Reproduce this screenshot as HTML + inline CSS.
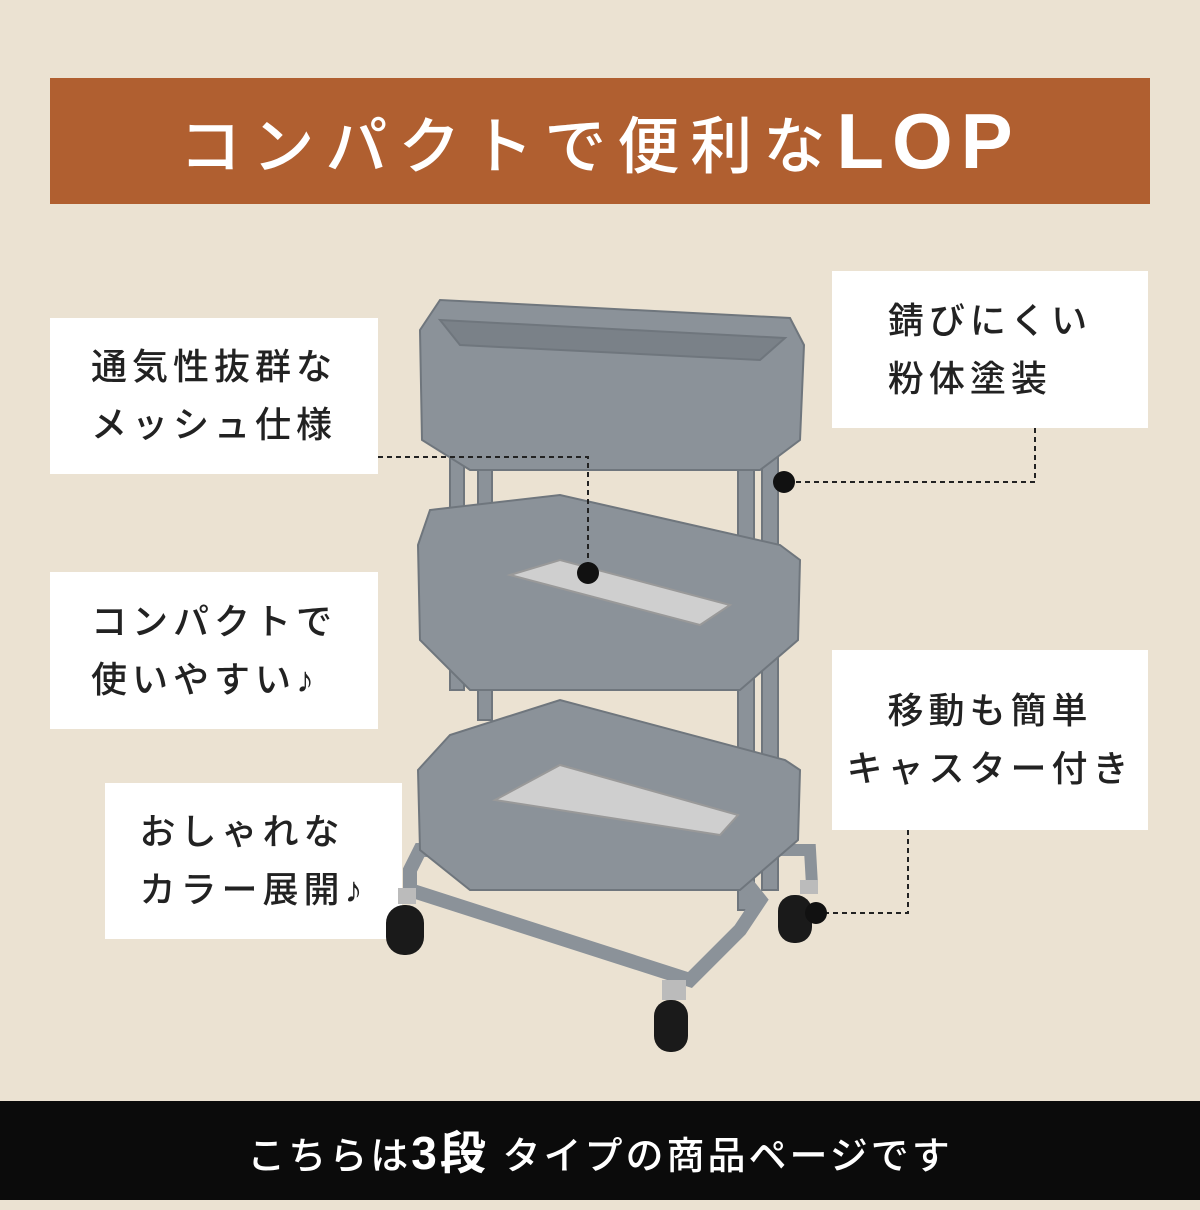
<!DOCTYPE html>
<html><head><meta charset="utf-8"><style>
body{margin:0;width:1200px;height:1200px;background:#ebe2d2;position:relative;overflow:hidden;font-family:"Liberation Sans","Noto Sans CJK JP",sans-serif;}
.hdr{position:absolute;left:50px;top:78px;width:1100px;height:126px;background:#b05f30;color:#fff;font-size:62px;font-weight:500;letter-spacing:11px;text-align:center;line-height:126px;}
.hdr b{font-size:78px;font-weight:700;letter-spacing:8px}
.box{position:absolute;background:#fff;color:#222;font-size:36px;font-weight:500;letter-spacing:5px;line-height:58px;display:flex;flex-direction:column;justify-content:center;align-items:center;text-align:left;}
.ft{position:absolute;left:0;top:1101px;width:1200px;height:99px;background:#0b0b0b;color:#fff;font-size:38px;font-weight:500;letter-spacing:3px;text-align:center;line-height:105px;}
.ft b{font-size:46px}
</style></head><body>
<div class="hdr">コンパクトで便利な<b>LOP</b></div>
<div class="box" style="left:50px;top:318px;width:328px;height:156px"><div>通気性抜群な<br>メッシュ仕様</div></div>
<div class="box" style="left:50px;top:572px;width:328px;height:157px"><div>コンパクトで<br>使いやすい♪</div></div>
<div class="box" style="left:105px;top:783px;width:297px;height:156px"><div>おしゃれな<br>カラー展開♪</div></div>
<div class="box" style="left:832px;top:271px;width:316px;height:157px"><div>錆びにくい<br>粉体塗装</div></div>
<div class="box" style="left:832px;top:650px;width:316px;height:180px"><div style="text-align:center">移動も簡単<br>キャスター付き</div></div>
<svg width="1200" height="1200" style="position:absolute;left:0;top:0">
<g fill="#8b9299" stroke="#6f767d" stroke-width="2">
<rect x="450" y="420" width="14" height="270" />
<rect x="478" y="420" width="14" height="300"/>
<rect x="738" y="370" width="16" height="540"/>
<rect x="762" y="370" width="16" height="520"/>
<path d="M410 870 L420 850 L720 850 L760 900 L740 930 L690 980 L410 890 Z" fill="none" stroke="#8b9299" stroke-width="14"/>
<path d="M778 850 L810 850 L812 885" fill="none" stroke="#8b9299" stroke-width="12"/>
<path d="M420 330 L440 300 L790 318 L804 345 L800 440 L760 470 L470 470 L422 440 Z"/>
<path d="M440 320 L785 338 L760 360 L460 345 Z" fill="#7a8188"/>
<path d="M418 545 L430 510 L560 495 L780 545 L800 560 L798 640 L740 690 L470 690 L420 640 Z"/>
<path d="M510 575 L560 560 L730 605 L700 625 Z" fill="#cfcfcf" stroke="#999"/>
<path d="M418 770 L450 735 L560 700 L785 760 L800 770 L798 840 L740 890 L470 890 L420 850 Z"/>
<path d="M495 800 L560 765 L738 815 L720 835 Z" fill="#cfcfcf" stroke="#999"/>
</g>
<g fill="#1a1a1a">
<rect x="386" y="905" width="38" height="50" rx="18"/>
<rect x="778" y="895" width="34" height="48" rx="16"/>
<rect x="654" y="1000" width="34" height="52" rx="16"/>
</g>
<g fill="#bbb"><rect x="398" y="888" width="18" height="16"/><rect x="662" y="980" width="24" height="20"/><rect x="800" y="880" width="18" height="14"/></g>
<g fill="none" stroke="#222" stroke-width="2" stroke-dasharray="5,4">
<path d="M378 457 H588 V572"/>
<path d="M1035 428 V482 H784"/>
<path d="M908 830 V913 H815"/>
</g>
<g fill="#111"><circle cx="588" cy="573" r="11"/><circle cx="784" cy="482" r="11"/><circle cx="816" cy="913" r="11"/></g>
</svg>
<div class="ft">こちらは<b>3段</b> タイプの商品ページです</div>
</body></html>
